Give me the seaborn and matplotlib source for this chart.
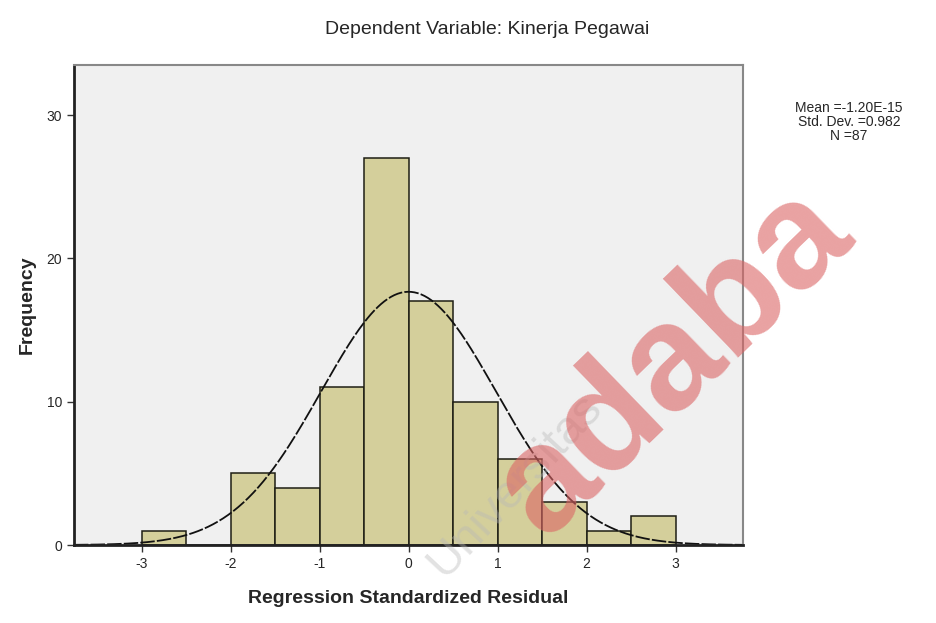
import numpy as np
import pandas as pd
import matplotlib
matplotlib.use('Agg')
import matplotlib.pyplot as plt
import seaborn as sns

# histogram of standardized residuals
bin_edges = [-3.0, -2.5, -2.0, -1.5, -1.0, -0.5, 0.0, 0.5, 1.0, 1.5, 2.0, 2.5, 3.0]
counts = [1, 0, 5, 4, 11, 27, 17, 10, 6, 3, 1, 2]
mean_val = -1.20e-15
sd_val = 0.982
n_val = 87

centers = [(a + b) / 2 for a, b in zip(bin_edges[:-1], bin_edges[1:])]
df = pd.DataFrame({'resid': centers, 'freq': counts})

sns.set_style('ticks')
plt.rcParams['font.family'] = ['Liberation Sans', 'DejaVu Sans']
plt.rcParams['axes.unicode_minus'] = False

fig = plt.figure(figsize=(9.36, 6.23), dpi=100)
ax = fig.add_axes([0.079, 0.1252, 0.715, 0.7705])
ax.set_facecolor('#f0f0f0')

sns.histplot(data=df, x='resid', weights='freq', bins=bin_edges, ax=ax,
             color='#d4cf9b', alpha=1, edgecolor='#1e1e14', linewidth=1.1)

# normal curve
xs = np.linspace(-3.76, 3.76, 400)
ys = n_val * 0.5 / (sd_val * np.sqrt(2 * np.pi)) * np.exp(-0.5 * ((xs - mean_val) / sd_val) ** 2)
sns.lineplot(x=xs, y=ys, ax=ax, color='#111111', linewidth=1.3, linestyle=(0, (8, 1.2)))

ax.set_xlim(-3.76, 3.76)
ax.set_ylim(0, 33.5)
ax.set_xticks([-3, -2, -1, 0, 1, 2, 3])
ax.set_yticks([0, 10, 20, 30])
ax.tick_params(labelsize=10, length=5, width=1, color='#333333')
ax.set_xlabel('Regression Standardized Residual', fontsize=14, fontweight='bold', labelpad=14)
ax.set_ylabel('Frequency', fontsize=14, fontweight='bold', labelpad=8)

for side in ['left', 'bottom']:
    ax.spines[side].set_color('#222222')
    ax.spines[side].set_linewidth(2)
for side in ['top', 'right']:
    ax.spines[side].set_visible(True)
    ax.spines[side].set_color('#888888')
    ax.spines[side].set_linewidth(1.5)

fig.text(0.52, 0.952, 'Dependent Variable: Kinerja Pegawai', ha='center', va='center', fontsize=14)

fig.text(0.907, 0.826, 'Mean =-1.20E-15', ha='center', va='center', fontsize=10)
fig.text(0.907, 0.804, 'Std. Dev. =0.982', ha='center', va='center', fontsize=10)
fig.text(0.907, 0.782, 'N =87', ha='center', va='center', fontsize=10)

# watermarks
fig.text(0.55, 0.22, 'Universitas', rotation=47, ha='center', va='center', fontsize=34,
         color='#b8b8b8', alpha=0.4)
fig.text(0.72, 0.42, 'adaba', rotation=44, ha='center', va='center', fontsize=108,
         fontweight='bold', color='#db6464', alpha=0.6)

fig.savefig('out.png', dpi=100)
